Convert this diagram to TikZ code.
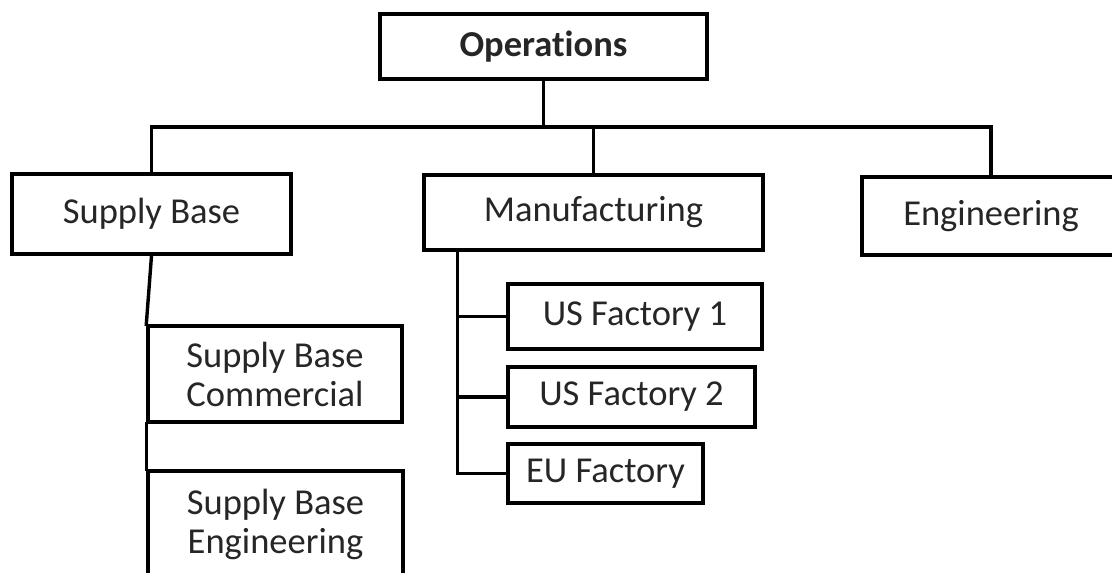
\documentclass[tikz,border=0pt]{standalone}
\usepackage{fontspec}
\setmainfont{Carlito}[Ligatures=NoCommon]
\begin{document}
\begin{tikzpicture}[x=1pt,y=-1pt,
  box/.style={draw=black,line width=3.4pt,fill=white,inner sep=0pt,align=center,
    font=\fontsize{36.5}{39}\selectfont,text=black!85},
  link/.style={draw=black,line width=3.4pt,line cap=rect}]
\clip (0,0) rectangle (1112,573);
\fill[white] (0,0) rectangle (1112,573);

% top level
\node[box,minimum width=327pt,minimum height=65pt,font=\fontsize{36.5}{39}\selectfont\bfseries]
  (ops) at (543.5,46.5) {Operations};

% departments
\node[box,minimum width=279pt,minimum height=80pt] (sb) at (151.5,214) {Supply Base};
\node[box,minimum width=339pt,minimum height=75pt] (mfg) at (593.5,212.5) {Manufacturing};
\node[box,minimum width=258pt,minimum height=78pt] (eng) at (991,216) {Engineering};

% supply base groups
\node[box,minimum width=254pt,minimum height=96pt] (sbc) at (275,374) {Supply Base\\Commercial};
\node[box,minimum width=255pt,minimum height=107pt] (sbe) at (275.5,524.5) {Supply Base\\Engineering};

% factories
\node[box,minimum width=254pt,minimum height=65pt] (uf1) at (635,316.5) {US Factory 1};
\node[box,minimum width=247pt,minimum height=60pt] (uf2) at (631.5,397) {US Factory 2};
\node[box,minimum width=195pt,minimum height=59pt] (euf) at (605.5,473.5) {EU Factory};

% connectors
\coordinate (bus) at (543.5,127);
\draw[link] (ops.south) -- (bus);
\draw[link] (sb.north) |- (bus) -| (eng.north);
\draw[link] (mfg.north) -- (mfg.north |- bus);

\draw[link] (sb.south) -- (sbc.north west);
\draw[link] (sbc.south west) -- (sbe.north west);

\coordinate (mtop) at ([xshift=35pt]mfg.south west);
\draw[link] (mtop) |- (euf.west);
\draw[link] (mtop |- uf1.west) -- (uf1.west);
\draw[link] (mtop |- uf2.west) -- (uf2.west);
\end{tikzpicture}
\end{document}
